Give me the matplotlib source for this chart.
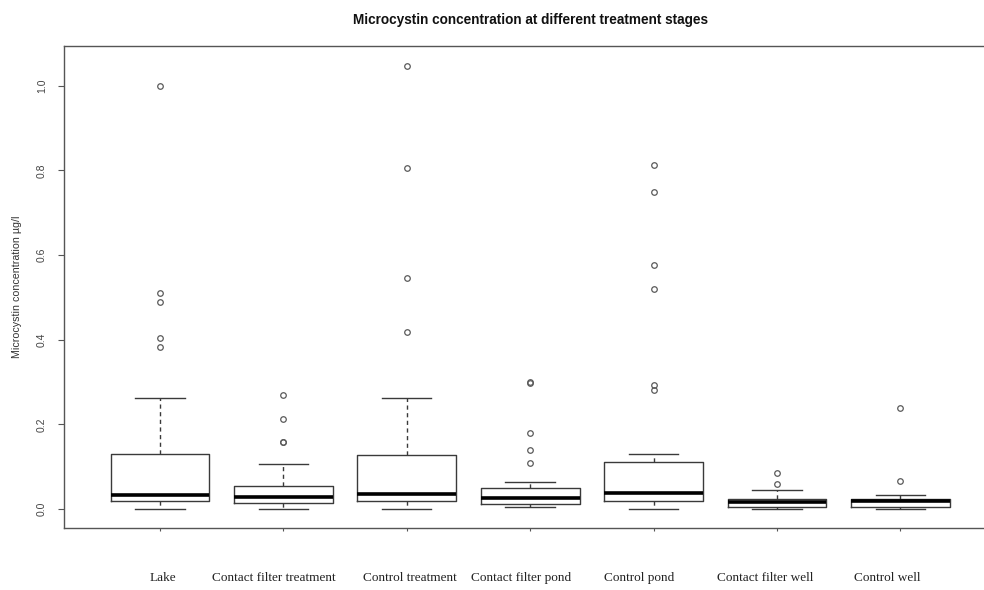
import matplotlib
matplotlib.use("Agg")
import matplotlib.pyplot as plt
from matplotlib.transforms import ScaledTranslation

# Treatment stages (one box each)
stages = ["Lake", "Contact filter treatment", "Control treatment",
          "Contact filter pond", "Control pond", "Contact filter well",
          "Control well"]

# Five-number summaries, µg/l
whisker_low = [0.000, 0.000, 0.000, 0.006, 0.000, 0.000, 0.000]
q1 = [0.0196, 0.014, 0.0189, 0.0118, 0.019, 0.0055, 0.0047]
median = [0.0345, 0.0298, 0.036, 0.0267, 0.039, 0.0157, 0.019]
q3 = [0.131, 0.055, 0.1275, 0.0495, 0.111, 0.0243, 0.0243]
whisker_high = [0.262, 0.106, 0.262, 0.063, 0.131, 0.045, 0.034]

# Outlying observations per stage
outliers = [
    [1.000, 0.511, 0.488, 0.403, 0.383],
    [0.270, 0.2125, 0.158, 0.158],
    [1.047, 0.806, 0.545, 0.419],
    [0.300, 0.298, 0.179, 0.139, 0.110],
    [0.8135, 0.749, 0.5775, 0.520, 0.293, 0.281],
    [0.085, 0.060],
    [0.238, 0.0668],
]

y_ticks = [0.0, 0.2, 0.4, 0.6, 0.8, 1.0]

stats = []
for i, name in enumerate(stages):
    stats.append(dict(label=name, whislo=whisker_low[i], q1=q1[i],
                      med=median[i], q3=q3[i], whishi=whisker_high[i],
                      fliers=outliers[i]))

fig = plt.figure(figsize=(9.84, 5.90), dpi=100)
ax = fig.add_axes([0.0647, 0.1051, 0.9482, 0.8161])

line_col = "#3a3a3a"
ax.bxp(stats, positions=range(1, len(stages) + 1), widths=0.8,
       showfliers=True, patch_artist=False,
       boxprops=dict(color=line_col, linewidth=1.0),
       medianprops=dict(color="black", linewidth=2.6),
       whiskerprops=dict(color=line_col, linewidth=1.0, linestyle=(0, (3, 2.5))),
       capprops=dict(color=line_col, linewidth=1.0),
       capwidths=0.4,
       flierprops=dict(marker="o", markersize=4.0, markerfacecolor="none",
                       markeredgecolor="#5a5a5a", markeredgewidth=0.9))

ax.set_xlim(0.22, 7.78)
ax.set_ylim(-0.0445, 1.0925)

for sp in ax.spines.values():
    sp.set_color("#555555")
    sp.set_linewidth(1.0)

ax.set_yticks(y_ticks)
ax.set_yticklabels([f"{v:.1f}" for v in y_ticks],
                   fontfamily="Liberation Sans", fontsize=7.5, color="#444444")
ax.tick_params(axis="y", length=4.5, width=0.8, color="#555555", pad=7.5,
               labelrotation=90)
for lab in ax.get_yticklabels():
    lab.set_va("center")

ax.set_xticks(range(1, len(stages) + 1))
ax.set_xticklabels(stages, fontfamily="Liberation Serif", fontsize=9.5,
                   color="#222222")
ax.tick_params(axis="x", length=2.5, width=0.8, color="#555555", pad=29)

# the stage names sit slightly off their box centres (pixel nudges)
label_nudge_px = [3, -10, 3, -9, -14, -12, -13]
for lab, dx in zip(ax.get_xticklabels(), label_nudge_px):
    lab.set_transform(lab.get_transform()
                      + ScaledTranslation(dx / 100, 0, fig.dpi_scale_trans))

ax.set_ylabel("Microcystin concentration µg/l", fontfamily="Liberation Sans",
              fontsize=7.7, color="#333333", labelpad=11)
ax.set_title("Microcystin concentration at different treatment stages",
             fontfamily="Liberation Sans", fontweight="bold", fontsize=9.8,
             color="#111111", pad=16)

fig.savefig("out.png", dpi=100, facecolor="white")
